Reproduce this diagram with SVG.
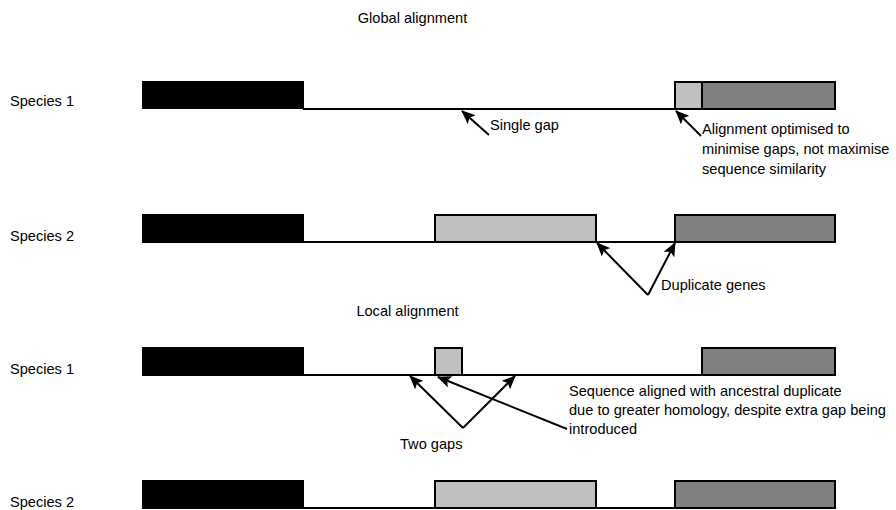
<svg xmlns="http://www.w3.org/2000/svg" width="896" height="510" viewBox="0 0 896 510">
<style>
text{font-family:"Liberation Sans",Arial,sans-serif;font-size:14.6px;fill:#000}
.blk{fill:#000;stroke:#000;stroke-width:2}
.lg{fill:#c0c0c0;stroke:#000;stroke-width:2}
.dg{fill:#808080;stroke:#000;stroke-width:2}
.seq{stroke:#000;stroke-width:2;fill:none}
.arr{stroke:#000;stroke-width:2;fill:none;marker-end:url(#ah)}
</style>
<defs>
<marker id="ah" viewBox="0 0 14 12" refX="13" refY="6" markerWidth="14" markerHeight="12" markerUnits="userSpaceOnUse" orient="auto">
<path d="M0,0 L14,6 L0,12 L3,6 z" fill="#000"/>
</marker>
</defs>
<rect width="896" height="510" fill="#fff"/>
<text x="412.5" y="23" text-anchor="middle">Global alignment</text>
<text x="407.5" y="316" text-anchor="middle">Local alignment</text>

<g id="g-s1">
<text x="10" y="106">Species 1</text>
<line class="seq" x1="303" y1="109" x2="675" y2="109"/>
<rect class="blk" x="143" y="82" width="160" height="26"/>
<rect class="lg" x="675" y="82" width="27" height="27"/>
<rect class="dg" x="702" y="82" width="133" height="27"/>
</g>
<g id="g-s2">
<text x="10" y="241">Species 2</text>
<line class="seq" x1="303" y1="242" x2="835" y2="242"/>
<rect class="blk" x="143" y="215" width="160" height="27"/>
<rect class="lg" x="435" y="215" width="161" height="27"/>
<rect class="dg" x="675" y="215" width="160" height="27"/>
</g>
<g id="l-s1">
<text x="10" y="374">Species 1</text>
<line class="seq" x1="303" y1="375" x2="835" y2="375"/>
<rect class="blk" x="143" y="348" width="160" height="27"/>
<rect class="lg" x="435" y="348" width="27" height="27"/>
<rect class="dg" x="702" y="348" width="133" height="27"/>
</g>
<g id="l-s2">
<text x="10" y="507">Species 2</text>
<line class="seq" x1="303" y1="508" x2="835" y2="508"/>
<rect class="blk" x="143" y="481" width="160" height="27"/>
<rect class="lg" x="435" y="481" width="161" height="27"/>
<rect class="dg" x="675" y="481" width="160" height="27"/>
</g>

<g id="labels">
<text x="490" y="130">Single gap</text>
<text x="702" y="133.5">Alignment optimised to</text>
<text x="702" y="154">minimise gaps, not maximise</text>
<text x="702" y="174">sequence similarity</text>
<text x="661" y="290">Duplicate genes</text>
<text x="569" y="396">Sequence aligned with ancestral duplicate</text>
<text x="569" y="415">due to greater homology, despite extra gap being</text>
<text x="569" y="434">introduced</text>
<text x="400" y="449">Two gaps</text>
</g>

<g id="connectors">
<line class="arr" x1="489" y1="135" x2="462" y2="111"/>
<line class="arr" x1="701" y1="136" x2="676" y2="111"/>
<line class="arr" x1="648" y1="295" x2="597" y2="243"/>
<line class="arr" x1="648" y1="295" x2="675" y2="243"/>
<line class="arr" x1="463" y1="428" x2="410" y2="376"/>
<line class="arr" x1="463" y1="428" x2="515" y2="376"/>
<line class="arr" x1="567" y1="429" x2="438" y2="377"/>
</g>
</svg>
